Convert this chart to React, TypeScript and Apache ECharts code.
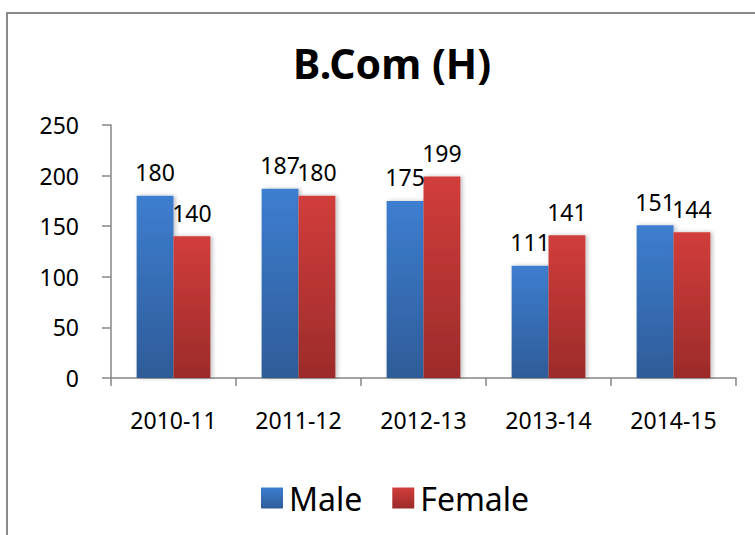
import React, { useEffect, useRef } from "react";
import * as echarts from "echarts";

const categories = ["2010-11", "2011-12", "2012-13", "2013-14", "2014-15"];
const maleValues = [180, 187, 175, 111, 151];
const femaleValues = [140, 180, 199, 141, 144];
const yTicks = { min: 0, max: 250, interval: 50 };
const titleText = "B.Com (H)";

const FONT = "'Noto Sans', 'Open Sans', sans-serif";

export default function App() {
  const ref = useRef<HTMLDivElement>(null);
  useEffect(() => {
    if (!ref.current) return;
    const chart = echarts.init(ref.current, null, { renderer: "svg" });
    const maleColor = new echarts.graphic.LinearGradient(0, 0, 0, 1, [
      { offset: 0, color: "#3d7ed0" },
      { offset: 1, color: "#2e5c98" },
    ]);
    const femaleColor = new echarts.graphic.LinearGradient(0, 0, 0, 1, [
      { offset: 0, color: "#d13d3b" },
      { offset: 1, color: "#9c2b2a" },
    ]);
    const labelStyle = {
      show: true,
      position: "top" as const,
      distance: 12,
      color: "#000",
      fontFamily: FONT,
      fontSize: 23,
    };
    chart.setOption({
      animation: false,
      backgroundColor: "#fff",
      graphic: [
        {
          type: "rect",
          shape: { x: 7, y: 13, width: 800, height: 600 },
          style: { fill: "none", stroke: "#8a8a8a", lineWidth: 2 },
          silent: true,
        },
      ],
      title: {
        text: titleText,
        left: 387,
        textAlign: "center",
        top: 37,
        textStyle: {
          fontFamily: FONT,
          fontSize: 41,
          fontWeight: "bold",
          color: "#000",
        },
      },
      legend: {
        left: 256,
        top: 477,
        itemWidth: 22,
        itemHeight: 21,
        itemGap: 30,
        icon: "rect",
        textStyle: { fontFamily: FONT, fontSize: 32, color: "#000", padding: [0, 0, 0, 1] },
        data: ["Male", "Female"],
      },
      grid: { left: 111, right: 19, top: 125, bottom: 157, containLabel: false },
      xAxis: {
        type: "category",
        data: categories,
        axisLine: { lineStyle: { color: "#868686", width: 1.5 } },
        axisTick: { show: true, length: 8, lineStyle: { color: "#868686", width: 1.5 } },
        axisLabel: { margin: 30, color: "#000", fontFamily: FONT, fontSize: 23 },
      },
      yAxis: {
        type: "value",
        min: yTicks.min,
        max: yTicks.max,
        interval: yTicks.interval,
        axisLine: { show: true, lineStyle: { color: "#868686", width: 1.5 } },
        axisTick: { show: true, length: 9, lineStyle: { color: "#868686", width: 1.5 } },
        splitLine: { show: false },
        axisLabel: { margin: 32, color: "#000", fontFamily: FONT, fontSize: 23 },
      },
      series: [
        {
          name: "Male",
          type: "bar",
          data: maleValues,
          barGap: "0%",
          barCategoryGap: "41%",
          itemStyle: {
            color: maleColor,
            shadowColor: "rgba(0,0,0,0.25)",
            shadowBlur: 4,
            shadowOffsetX: 2,
          },
          label: labelStyle,
        },
        {
          name: "Female",
          type: "bar",
          data: femaleValues,
          barGap: "0%",
          barCategoryGap: "41%",
          itemStyle: {
            color: femaleColor,
            shadowColor: "rgba(0,0,0,0.25)",
            shadowBlur: 4,
            shadowOffsetX: 2,
          },
          label: labelStyle,
        },
      ],
    });
    return () => chart.dispose();
  }, []);
  return (
    <div
      ref={ref}
      style={{ position: "fixed", left: 0, top: 0, width: 755, height: 535 }}
    />
  );
}
